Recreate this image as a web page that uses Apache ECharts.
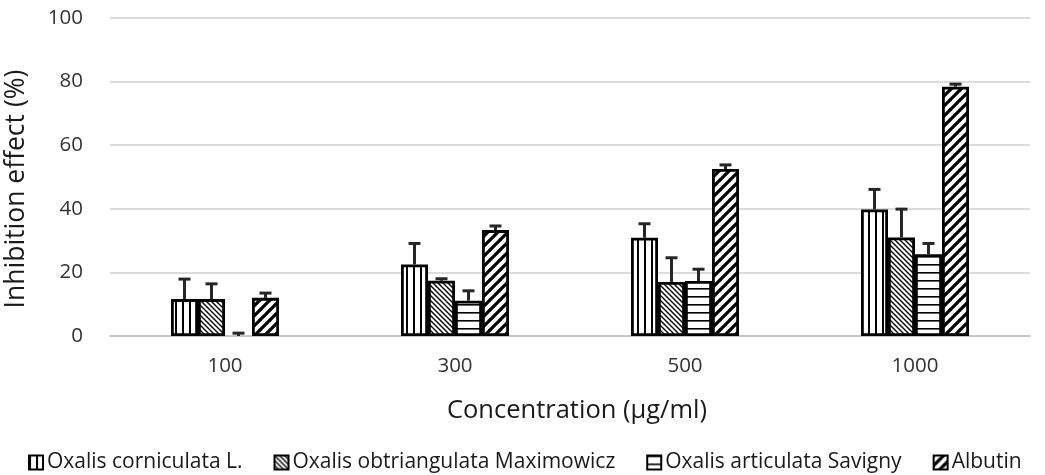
<!DOCTYPE html>
<html><head><meta charset="utf-8">
<script src="https://cdn.jsdelivr.net/npm/echarts@6/dist/echarts.min.js"></script>
<style>html,body{margin:0;padding:0;background:#fff}#c{width:1045px;height:475px}</style>
</head><body><div id="c"></div>
<script>
const categories = ['100', '300', '500', '1000'];
const seriesNames = ['Oxalis corniculata L.', 'Oxalis obtriangulata Maximowicz', 'Oxalis articulata Savigny', 'Albutin'];
const corniculata = [11.6, 22.5, 30.9, 39.8];
const obtriangulata = [11.6, 17.4, 17.0, 31.0];
const articulata = [0, 11.1, 17.3, 25.7];
const albutin = [12.0, 33.3, 52.5, 78.4];
const corniculataErr = [6.3, 6.6, 4.4, 6.3];
const obtriangulataErr = [4.8, 0.6, 7.6, 8.9];
const articulataErr = [0.9, 3.1, 3.7, 3.4];
const albutinErr = [1.5, 1.3, 1.3, 0.8];
const yTicks = [0, 20, 40, 60, 80, 100];

const values = [corniculata, obtriangulata, articulata, albutin];
const errors = [corniculataErr, obtriangulataErr, articulataErr, albutinErr];

function makePattern(kind) {
  const c = document.createElement('canvas');
  let s;
  const ctx0 = () => c.getContext('2d');
  if (kind === 'v') { s = 7; c.width = s; c.height = s; const x = ctx0(); x.fillStyle = '#fff'; x.fillRect(0,0,s,s); x.fillStyle = '#000'; x.fillRect(0,0,2,s); }
  else if (kind === 'h') { s = 8; c.width = s; c.height = s; const x = ctx0(); x.fillStyle = '#fff'; x.fillRect(0,0,s,s); x.fillStyle = '#000'; x.fillRect(0,0,s,1.6); }
  else if (kind === 'b') { s = 5; c.width = s; c.height = s; const x = ctx0(); x.fillStyle = '#fff'; x.fillRect(0,0,s,s); x.strokeStyle = '#000'; x.lineWidth = 1.4;
    x.beginPath(); x.moveTo(-1,-1); x.lineTo(s+1,s+1); x.moveTo(s-1,-1); x.lineTo(s+1,1); x.moveTo(-1,s-1); x.lineTo(1,s+1); x.stroke(); }
  else { s = 10; c.width = s; c.height = s; const x = ctx0(); x.fillStyle = '#fff'; x.fillRect(0,0,s,s); x.strokeStyle = '#000'; x.lineWidth = 3.2;
    x.beginPath(); x.moveTo(-1,s+1); x.lineTo(s+1,-1); x.moveTo(-1,1); x.lineTo(1,-1); x.moveTo(s-1,s+1); x.lineTo(s+1,s-1); x.stroke(); }
  return { image: c, repeat: 'repeat' };
}
const patterns = [makePattern('v'), makePattern('b'), makePattern('h'), makePattern('f')];

const BAR_W = 27;
const FONT = 'Open Sans';
const chart = echarts.init(document.getElementById('c'));

const series = [];
seriesNames.forEach((name, i) => {
  series.push({
    name, type: 'bar', barWidth: BAR_W, barGap: 0,
    data: values[i].map(v => v === 0 ? { value: v, itemStyle: { borderWidth: 0 } } : v),
    itemStyle: { color: patterns[i], borderColor: '#000', borderWidth: 2.8 },
    z: 2
  });
});
seriesNames.forEach((name, i) => {
  series.push({
    type: 'custom', name: name + '_err', z: 5, silent: true,
    data: values[i].map((v, k) => [k, v, v + errors[i][k]]),
    encode: { x: 0, y: [1, 2] },
    renderItem: (params, api) => {
      const k = api.value(0);
      const lo = api.coord([k, api.value(1)]);
      const hi = api.coord([k, api.value(2)]);
      if (api.value(2) - api.value(1) <= 0) return null;
      const x = lo[0] + (i - 1.5) * BAR_W;
      const cap = 6;
      return { type: 'group', children: [
        { type: 'line', shape: { x1: x, y1: lo[1], x2: x, y2: hi[1] }, style: { stroke: '#262626', lineWidth: 3 } },
        { type: 'line', shape: { x1: x - cap, y1: hi[1], x2: x + cap, y2: hi[1] }, style: { stroke: '#262626', lineWidth: 3 } }
      ]};
    }
  });
});

chart.setOption({
  animation: false,
  backgroundColor: '#fff',
  textStyle: { fontFamily: FONT },
  grid: { left: 110, right: 15, top: 18, bottom: 139, containLabel: false, outerBoundsMode: 'none' },
  legend: {
    data: seriesNames, left: 28, top: 452, padding: 0, itemWidth: 14, itemHeight: 14, itemGap: 31,
    icon: 'rect',
    textStyle: { fontSize: 21, color: '#1a1a1a', fontFamily: FONT, padding: [0, 0, 0, -1] }
  },
  xAxis: {
    type: 'category', data: categories,
    name: 'Concentration (μg/ml)', nameLocation: 'middle', nameGap: 62,
    nameTextStyle: { fontSize: 25.5, color: '#1a1a1a', fontFamily: FONT, padding: [0, 0, 0, 14] },
    axisLine: { lineStyle: { color: '#bfbfbf', width: 1.5 } },
    axisTick: { show: false },
    axisLabel: { fontSize: 20.5, color: '#333', margin: 20, fontFamily: FONT }
  },
  yAxis: {
    type: 'value', min: 0, max: 100, interval: 20,
    name: 'Inhibition effect (%)', nameLocation: 'middle', nameGap: 80, nameRotate: 90,
    nameTextStyle: { fontSize: 26.5, color: '#1a1a1a', fontFamily: FONT, padding: [0, 24, 0, 0] },
    axisLine: { show: false }, axisTick: { show: false },
    axisLabel: { fontSize: 20.5, color: '#333', margin: 27, fontFamily: FONT,
      formatter: v => yTicks.includes(v) ? String(v) : '' },
    splitLine: { lineStyle: { color: '#d0d0d0', width: 1.5 } }
  },
  series
});
</script></body></html>
